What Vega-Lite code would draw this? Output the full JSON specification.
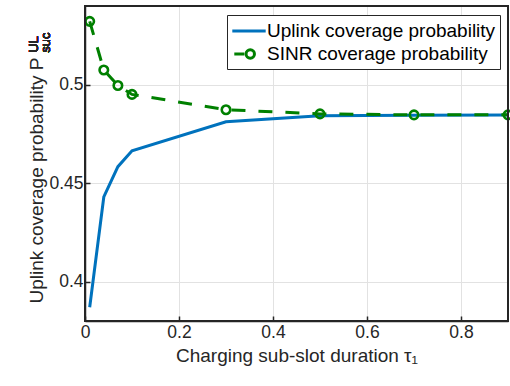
{
  "$schema": "https://vega.github.io/schema/vega-lite/v6.json",
  "width": 423,
  "height": 315,
  "autosize": {"type": "none"},
  "padding": {"left": 85, "top": 6, "right": 2, "bottom": 65},
  "background": "white",
  "config": {
    "view": {"stroke": "#262626", "strokeWidth": 1.5},
    "font": "Liberation Sans",
    "axis": {
      "labelFont": "Liberation Sans",
      "titleFont": "Liberation Sans",
      "labelColor": "#262626",
      "titleColor": "#262626",
      "labelFontSize": 17.5,
      "titleFontSize": 19,
      "titleFontWeight": "normal",
      "labelFlush": false,
      "domain": true,
      "ticks": true,
      "domainColor": "#262626",
      "domainWidth": 1.5,
      "tickColor": "#262626",
      "tickWidth": 1.5,
      "tickSize": -5,
      "gridColor": "#e2e2e2",
      "gridWidth": 1
    },
    "legend": {
      "labelFont": "Liberation Sans",
      "labelFontSize": 19,
      "labelColor": "#000000",
      "labelLimit": 400
    }
  },
  "datasets": {
    "coverage": [
      {"tau": 0.01, "series": "Uplink coverage probability", "p": 0.387},
      {"tau": 0.04, "series": "Uplink coverage probability", "p": 0.443},
      {"tau": 0.07, "series": "Uplink coverage probability", "p": 0.4584},
      {"tau": 0.1, "series": "Uplink coverage probability", "p": 0.4665},
      {"tau": 0.3, "series": "Uplink coverage probability", "p": 0.4812},
      {"tau": 0.5, "series": "Uplink coverage probability", "p": 0.4842},
      {"tau": 0.7, "series": "Uplink coverage probability", "p": 0.4845},
      {"tau": 0.9, "series": "Uplink coverage probability", "p": 0.4846},
      {"tau": 0.01, "series": "SINR coverage probability", "p": 0.5322},
      {"tau": 0.04, "series": "SINR coverage probability", "p": 0.5075},
      {"tau": 0.07, "series": "SINR coverage probability", "p": 0.4996},
      {"tau": 0.1, "series": "SINR coverage probability", "p": 0.4951},
      {"tau": 0.3, "series": "SINR coverage probability", "p": 0.4873},
      {"tau": 0.5, "series": "SINR coverage probability", "p": 0.4852},
      {"tau": 0.7, "series": "SINR coverage probability", "p": 0.4847},
      {"tau": 0.9, "series": "SINR coverage probability", "p": 0.4847}
    ]
  },
  "data": {"name": "coverage"},
  "layer": [
    {
      "transform": [{"filter": "datum.series === 'Uplink coverage probability'"}],
      "mark": {"type": "line", "strokeWidth": 3, "clip": true},
      "encoding": {
        "x": {
          "field": "tau", "type": "quantitative",
          "scale": {"domain": [0, 0.9], "nice": false, "zero": false},
          "axis": {
            "orient": "bottom",
            "values": [0, 0.2, 0.4, 0.6, 0.8],
            "format": "~g",
            "labelPadding": 7,
            "grid": true,
            "title": "Charging sub-slot duration τ₁",
            "titlePadding": 6
          }
        },
        "y": {
          "field": "p", "type": "quantitative",
          "scale": {"domain": [0.38, 0.54], "nice": false, "zero": false},
          "axis": {
            "orient": "left",
            "values": [0.4, 0.45, 0.5],
            "format": "~g",
            "labelPadding": 7,
            "grid": true,
            "title": "Uplink coverage probability P",
            "titleAngle": 270,
            "titleAlign": "center",
            "titleBaseline": "alphabetic",
            "titleX": -43,
            "titleY": 174
          }
        },
        "color": {
          "field": "series", "type": "nominal",
          "scale": {
            "domain": ["Uplink coverage probability", "SINR coverage probability"],
            "range": ["#0072BD", "#008000"]
          },
          "legend": {
            "title": null,
            "orient": "none",
            "legendX": 142,
            "legendY": 9,
            "fillColor": "white",
            "strokeColor": "#262626",
            "padding": 4,
            "symbolOffset": 6,
            "symbolSize": 441,
            "symbolStrokeWidth": 3,
            "symbolOpacity": 1,
            "labelOffset": 6,
            "rowPadding": 1
          }
        }
      }
    },
    {
      "transform": [{"filter": "datum.series === 'SINR coverage probability'"}],
      "mark": {"type": "line", "strokeWidth": 3, "strokeDash": [14, 13], "clip": true},
      "encoding": {
        "x": {"field": "tau", "type": "quantitative"},
        "y": {"field": "p", "type": "quantitative"},
        "color": {"field": "series", "type": "nominal"}
      }
    },
    {
      "transform": [{"filter": "datum.series === 'SINR coverage probability'"}],
      "mark": {"type": "point", "shape": "circle", "filled": false, "size": 72, "strokeWidth": 2.6, "opacity": 1, "clip": false},
      "encoding": {
        "x": {"field": "tau", "type": "quantitative"},
        "y": {"field": "p", "type": "quantitative"},
        "color": {"field": "series", "type": "nominal"}
      }
    },
    {
      "mark": {"type": "point", "filled": false, "opacity": 0, "strokeWidth": 3},
      "encoding": {
        "x": {"field": "tau", "type": "quantitative"},
        "y": {"field": "p", "type": "quantitative"},
        "color": {"field": "series", "type": "nominal"},
        "shape": {
          "field": "series", "type": "nominal",
          "scale": {
            "domain": ["Uplink coverage probability", "SINR coverage probability"],
            "range": [
              "M-1.59,0H1.59",
              "M-1.4,0H-0.45M0.52,0A0.4,0.4 0 1 1 -0.28,0A0.4,0.4 0 1 1 0.52,0"
            ]
          }
        }
      }
    },
    {
      "mark": {"type": "rect", "fill": null, "filled": false, "stroke": "#262626", "strokeWidth": 1.5, "clip": false},
      "encoding": {
        "x": {"datum": 0, "type": "quantitative"},
        "x2": {"datum": 0.9},
        "y": {"datum": 0.38, "type": "quantitative"},
        "y2": {"datum": 0.54}
      }
    },
    {
      "mark": {"type": "text", "text": "UL", "angle": 270, "align": "left", "baseline": "alphabetic", "fontSize": 13, "fontWeight": "normal", "color": "#262626", "font": "Liberation Sans", "clip": false},
      "encoding": {
        "x": {"datum": -0.1, "type": "quantitative"},
        "y": {"datum": 0.5163, "type": "quantitative"}
      }
    },
    {
      "mark": {"type": "text", "text": "suc", "angle": 270, "align": "left", "baseline": "alphabetic", "fontSize": 13, "fontWeight": "normal", "color": "#262626", "font": "Liberation Sans", "clip": false},
      "encoding": {
        "x": {"datum": -0.0755, "type": "quantitative"},
        "y": {"datum": 0.5163, "type": "quantitative"}
      }
    }
  ]
}
